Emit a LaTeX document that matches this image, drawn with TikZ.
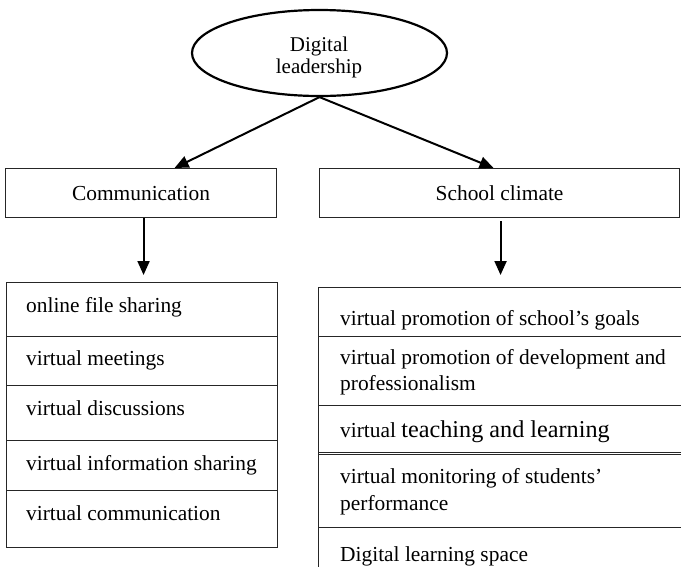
\documentclass[tikz,border=0pt]{standalone}
\usepackage{fontspec}
\setmainfont{Liberation Serif}
\usetikzlibrary{shapes.geometric,arrows.meta}
\begin{document}
\begin{tikzpicture}[x=1pt,y=-1pt,
  txt/.style={font=\fontsize{21.4}{27}\selectfont, inner sep=0pt},
  itemtxt/.style={txt, anchor=base west},
  boxline/.style={draw=black!85, line width=1.1pt},
  headbox/.style={boxline, rectangle, inner sep=0pt, anchor=north west},
  rowbox/.style={boxline, rectangle, inner sep=0pt, anchor=north west},
  oval/.style={draw=black, line width=2.2pt, ellipse, inner sep=0pt,
    minimum width=255pt, minimum height=86pt},
  arr/.style={draw=black, line width=2pt, -{Triangle[width=12pt,length=14pt]}}
]
\useasboundingbox (0,0) rectangle (681,566);
\clip (0,0) rectangle (681,566);

% top concept
\node[oval] (lead) at (319.5,53) {};
\node[txt, align=center, font=\fontsize{21}{22}\selectfont] (leadtxt) at (319,57) {Digital\\leadership};

% second level
\node[headbox, minimum width=271pt, minimum height=49pt] (comm) at (5,168) {};
\node[txt] (commtxt) at (comm.center) {Communication};
\node[headbox, minimum width=360pt, minimum height=49pt] (school) at (319,168) {};
\node[txt] (schooltxt) at (school.center) {School climate};

% communication list
\node[rowbox, minimum width=271pt, minimum height=54pt] (l1) at (6,282) {};
\node[rowbox, minimum width=271pt, minimum height=49pt] (l2) at (6,336) {};
\node[rowbox, minimum width=271pt, minimum height=55pt] (l3) at (6,385) {};
\node[rowbox, minimum width=271pt, minimum height=50pt] (l4) at (6,440) {};
\node[rowbox, minimum width=271pt, minimum height=57pt] (l5) at (6,490) {};
\node[itemtxt] (l1t) at (26,312) {online file sharing};
\node[itemtxt] (l2t) at (26,365) {virtual meetings};
\node[itemtxt] (l3t) at (26,415) {virtual discussions};
\node[itemtxt] (l4t) at (26,470) {virtual information sharing};
\node[itemtxt] (l5t) at (26,520) {virtual communication};

% school climate list
\node[rowbox, minimum width=400pt, minimum height=49pt] (r1) at (318,287) {};
\node[rowbox, minimum width=400pt, minimum height=69pt] (r2) at (318,336) {};
\node[rowbox, minimum width=400pt, minimum height=47pt] (r3) at (318,405) {};
\node[rowbox, minimum width=400pt, minimum height=75pt] (r4) at (318,452) {};
\node[rowbox, minimum width=400pt, minimum height=60pt] (r5) at (318,527) {};
\draw[boxline] ([yshift=-2.6pt]r4.north west) -- ([yshift=-2.6pt]r4.north east);
\node[itemtxt] (r1t) at (340,325) {virtual promotion of school’s goals};
\node[itemtxt] (r2t) at (340,364) {virtual promotion of development and};
\node[itemtxt] (r2u) at (340,390) {professionalism};
\node[itemtxt] (r3t) at (340,437) {virtual {\fontsize{24.2}{27}\selectfont teaching and learning}};
\node[itemtxt] (r4t) at (340,483) {virtual monitoring of students’};
\node[itemtxt] (r4u) at (340,510) {performance};
\node[itemtxt] (r5t) at (340,561) {Digital learning space};

% connectors
\draw[arr] (lead.south) -- ([xshift=33.5pt]comm.north);
\draw[arr] (lead.south) -- ([xshift=-6pt]school.north);
\draw[arr] ([xshift=2.5pt]comm.south) -- ([xshift=1.5pt,yshift=7pt]l1.north);
\draw[arr] ([xshift=1pt,yshift=-3pt]school.south) -- ([xshift=-18pt,yshift=12pt]r1.north);
\end{tikzpicture}
\end{document}
